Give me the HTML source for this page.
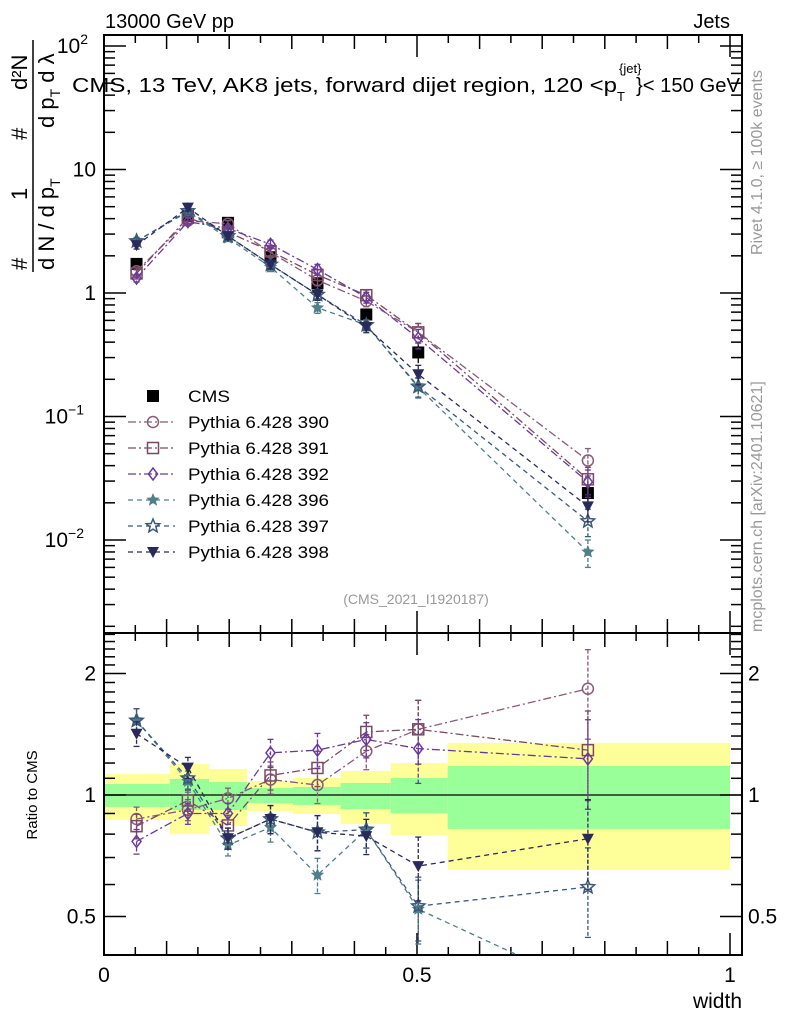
<!DOCTYPE html>
<html><head><meta charset="utf-8"><style>
body{margin:0;background:#fff;}
svg text{font-family:"Liberation Sans",sans-serif;}
</style></head><body>
<svg id="chart" width="786" height="1024" viewBox="0 0 786 1024" xmlns="http://www.w3.org/2000/svg">
<defs>
<clipPath id="clipMain"><rect x="104" y="35" width="638" height="598"/></clipPath>
<clipPath id="clipRatio"><rect x="104" y="633" width="638" height="322"/></clipPath>
</defs>
<g id="bands"></g>
<g id="axes"></g>
<g id="series"></g>
<text x="105" y="28" font-size="20">13000 GeV pp</text>
<text x="730" y="28" font-size="20" text-anchor="end">Jets</text>
<g>
<text x="72" y="92" font-size="20" textLength="545" lengthAdjust="spacingAndGlyphs">CMS, 13 TeV, AK8 jets, forward dijet region, 120 &lt;p</text>
<text x="619" y="73" font-size="13">{jet}</text>
<text x="617" y="101" font-size="13">T</text>
<text x="636" y="92" font-size="20" textLength="104" lengthAdjust="spacingAndGlyphs">}&lt; 150 GeV</text>
</g>
<g>
<text transform="translate(27,270) rotate(-90)" font-size="22">#</text>
<text transform="translate(27,200) rotate(-90)" font-size="22">1</text>
<text transform="translate(27,140) rotate(-90)" font-size="22">#</text>
<text transform="translate(27,90) rotate(-90)" font-size="22">d²N</text>
<line x1="33" y1="272" x2="33" y2="40" stroke="#000" stroke-width="1.5"/>
<text transform="translate(54,270) rotate(-90)" font-size="22">d N / d p<tspan font-size="14" dy="6">T</tspan></text>
<text transform="translate(54,128) rotate(-90)" font-size="22">d p<tspan font-size="14" dy="6">T</tspan><tspan dy="-6">  d λ</tspan></text>
</g>
<text transform="translate(762,255) rotate(-90)" font-size="16" fill="#999">Rivet 4.1.0, ≥ 100k events</text>
<text transform="translate(762,632) rotate(-90)" font-size="16" fill="#999">mcplots.cern.ch [arXiv:2401.10621]</text>
<text x="416" y="604" font-size="14" fill="#999" text-anchor="middle">(CMS_2021_I1920187)</text>
<text transform="translate(37,795) rotate(-90)" font-size="15" text-anchor="middle">Ratio to CMS</text>
<text x="742" y="1008" font-size="21" text-anchor="end">width</text>
<g id="legend"></g>
</svg>
<script>
const binEdges=[0,0.105,0.168,0.229,0.302,0.378,0.458,0.549,1.0];
const binCenters=[0.052,0.134,0.198,0.266,0.341,0.419,0.502,0.773];
const cmsValues=[1.72,4.2,3.7,1.95,1.2,0.67,0.33,0.024];
const mc390=[1.50,3.86,3.63,2.13,1.27,0.86,0.48,0.044];
const mc391=[1.44,4.07,3.11,2.18,1.40,0.96,0.48,0.031];
const mc392=[1.32,3.78,3.33,2.48,1.55,0.92,0.43,0.0295];
const mc396=[2.63,4.54,2.78,1.62,0.76,0.55,0.172,0.008];
const mc397=[2.63,4.62,2.89,1.70,0.97,0.55,0.175,0.0142];
const mc398=[2.44,4.91,2.89,1.70,0.97,0.53,0.22,0.0187];
const errFrac=[0.07,0.06,0.06,0.08,0.10,0.10,0.18,0.25];
const yellowHi=[1.127,1.193,1.16,1.083,1.102,1.147,1.2,1.346];
const yellowLo=[0.867,0.80,0.838,0.913,0.897,0.847,0.796,0.652];
const greenHi=[1.065,1.096,1.077,1.041,1.047,1.071,1.102,1.18];
const greenLo=[0.934,0.918,0.918,0.955,0.945,0.923,0.902,0.824];
const xTickLabels=["0","0.5","1"];
const mainTickLabels=[[-2,"10","−2"],[-1,"10","−1"],[0,"1",""],[1,"10",""],[2,"10","2"]];
const ratioTickLabels=[[0.5,"0.5"],[1,"1"],[2,"2"]];

const NS="http://www.w3.org/2000/svg";
const X0=104,X1=730,XR=742,MT=35,MB=633,RT=633,RB=955;
const sx=v=>X0+v*(X1-X0);
const sy=v=>540-(Math.log10(v)+2)*123.5;
const ry=v=>795-Math.log2(v)*121.5;
function mk(tag,attrs,parent){const e=document.createElementNS(NS,tag);for(const k in attrs){if(attrs[k]!==null)e.setAttribute(k,attrs[k]);}parent.appendChild(e);return e;}
const axes=document.getElementById('axes'),bands=document.getElementById('bands'),series=document.getElementById('series'),legend=document.getElementById('legend');

for(let i=0;i<8;i++){
 const y=mk('rect',{x:sx(binEdges[i]),y:ry(yellowHi[i]),width:sx(binEdges[i+1])-sx(binEdges[i]),height:ry(yellowLo[i])-ry(yellowHi[i]),fill:'#ffff99'},bands);
 
 
 const g=mk('rect',{x:sx(binEdges[i]),y:ry(greenHi[i]),width:sx(binEdges[i+1])-sx(binEdges[i]),height:ry(greenLo[i])-ry(greenHi[i]),fill:'#99ff99'},bands);
 
 
}
const f1=mk('rect',{x:X0,y:MT,width:XR-X0,height:MB-MT,fill:'none',stroke:'#000','stroke-width':2},axes);


const f2=mk('rect',{x:X0,y:RT,width:XR-X0,height:RB-RT,fill:'none',stroke:'#000','stroke-width':2},axes);


mk('line',{x1:X0,x2:XR,y1:ry(1),y2:ry(1),stroke:'#000','stroke-width':1.2},axes);
for(let k=0;k<=20;k++){const v=k*0.05,x=sx(v);const len=(k%10==0)?22:(k%2==0?14:8);
 [[MB,-1],[RB,-1],[MT,1],[RT,1]].forEach(([y,d])=>mk('line',{x1:x,x2:x,y1:y,y2:y+d*len,stroke:'#000','stroke-width':1.5},axes));}
xTickLabels.forEach((t,i)=>{const tx=mk('text',{x:sx(i*0.5),y:982,'font-size':21,'text-anchor':'middle'},axes);tx.textContent=t;
 
 });
for(let d=-3;d<=2;d++){for(let m=1;m<10;m++){const v=m*Math.pow(10,d);const y=sy(v);if(y<MT||y>MB)continue;const len=m==1?22:11;
 mk('line',{x1:X0,x2:X0+len,y1:y,y2:y,stroke:'#000','stroke-width':1.5},axes);mk('line',{x1:XR,x2:XR-len,y1:y,y2:y,stroke:'#000','stroke-width':1.5},axes);}}
mainTickLabels.forEach(([e,b,s])=>{const tx=mk('text',{x:96,y:sy(Math.pow(10,e))+7,'font-size':21,'text-anchor':'end'},axes);
 tx.textContent=b;if(s){const ts=mk('tspan',{'font-size':14,dy:-9},tx);ts.textContent=s;tx.setAttribute('x',s.length>1?84:88);}
 
 });
for(let k=4;k<=25;k++){const v=k/10,y=ry(v);if(y<RT||y>RB)continue;const len=(v==0.5||v==1||v==2)?22:11;
 mk('line',{x1:X0,x2:X0+len,y1:y,y2:y,stroke:'#000','stroke-width':1.5},axes);mk('line',{x1:XR,x2:XR-len,y1:y,y2:y,stroke:'#000','stroke-width':1.5},axes);}
ratioTickLabels.forEach(([v,t])=>{[[96,'end'],[748,'start']].forEach(([x,a])=>{const tx=mk('text',{x:x,y:ry(v)+7,'font-size':21,'text-anchor':a},axes);tx.textContent=t;
 
 });});

function star(cx,cy,r){let p=[];for(let i=0;i<10;i++){const a=-Math.PI/2+i*Math.PI/5,rr=i%2?r*0.45:r;p.push((cx+rr*Math.cos(a)).toFixed(1)+','+(cy+rr*Math.sin(a)).toFixed(1));}return p.join(' ');}
function marker(type,cx,cy,col,parent){
 if(type=='sq')return mk('rect',{x:cx-6,y:cy-6,width:12,height:12,fill:'#000'},parent);
 if(type=='circ')return mk('circle',{cx,cy,r:5.5,fill:'none',stroke:col,'stroke-width':1.5},parent);
 if(type=='osq')return mk('rect',{x:cx-5.5,y:cy-5.5,width:11,height:11,fill:'none',stroke:col,'stroke-width':1.5},parent);
 if(type=='dia')return mk('polygon',{points:`${cx},${cy-6} ${cx+4.5},${cy} ${cx},${cy+6} ${cx-4.5},${cy}`,fill:'none',stroke:col,'stroke-width':1.5},parent);
 if(type=='star')return mk('polygon',{points:star(cx,cy,7),fill:col},parent);
 if(type=='ostar')return mk('polygon',{points:star(cx,cy,7),fill:'none',stroke:col,'stroke-width':1.5},parent);
 if(type=='tri')return mk('polygon',{points:`${cx-6},${cy-5} ${cx+6},${cy-5} ${cx},${cy+6}`,fill:col},parent);
}
const sets=[
 {name:'CMS',vals:cmsValues,col:'#000',m:'sq',dash:null},
 {name:'Pythia 6.428 390',vals:mc390,col:'#8a5a7a',m:'circ',dash:'8,3,2,3'},
 {name:'Pythia 6.428 391',vals:mc391,col:'#7a4a62',m:'osq',dash:'8,3,2,3'},
 {name:'Pythia 6.428 392',vals:mc392,col:'#6a3a9a',m:'dia',dash:'8,3,2,3'},
 {name:'Pythia 6.428 396',vals:mc396,col:'#4f7f88',m:'star',dash:'5,4'},
 {name:'Pythia 6.428 397',vals:mc397,col:'#3a5a78',m:'ostar',dash:'5,4'},
 {name:'Pythia 6.428 398',vals:mc398,col:'#2a2a5a',m:'tri',dash:'5,4'}];
sets.forEach((s,si)=>{
 const g=mk('g',{},series);
 
 
 const panels=[[sy,s.vals,MT,MB,'clipMain']];
 if(si>0)panels.push([ry,s.vals.map((v,i)=>v/cmsValues[i]),RT,RB,'clipRatio']);
 panels.forEach(([f,vals,T,B,clip])=>{
  const pg=mk('g',{'clip-path':'url(#'+clip+')'},g);
  if(s.dash){let d='';vals.forEach((v,i)=>{d+=(i?'L':'M')+sx(binCenters[i])+','+f(v);});
   mk('path',{d,fill:'none',stroke:s.col,'stroke-width':1.3,'stroke-dasharray':s.dash},pg);}
  vals.forEach((v,i)=>{const x=sx(binCenters[i]),y=f(v);if(y<T-5||y>B+5)return;
   const y1=Math.max(T,f(v*(1+errFrac[i]))),y2=Math.min(B,f(v*(1-errFrac[i])));
   mk('line',{x1:x,x2:x,y1,y2,stroke:s.col,'stroke-width':1.3,'stroke-dasharray':s.dash?'4,2':null},pg);
   if(s.dash){mk('line',{x1:x-3,x2:x+3,y1,y2:y1,stroke:s.col,'stroke-width':1.3},pg);mk('line',{x1:x-3,x2:x+3,y1:y2,y2:y2,stroke:s.col,'stroke-width':1.3},pg);}
   const mm=marker(s.m,x,y,s.col,pg);
   
   
  });
 });
 const ly=396+si*26;
 const le=mk('g',{},legend);
 
 
 if(s.dash)mk('line',{x1:128,x2:175,y1:ly,y2:ly,stroke:s.col,'stroke-width':1.3,'stroke-dasharray':s.dash},le);
 marker(s.m,153,ly,s.col,le);
 const t=mk('text',{x:188,y:ly+6,'font-size':17,textLength:s.name=='CMS'?42:141,lengthAdjust:'spacingAndGlyphs'},le);t.textContent=s.name;
});
</script>
</body></html>
